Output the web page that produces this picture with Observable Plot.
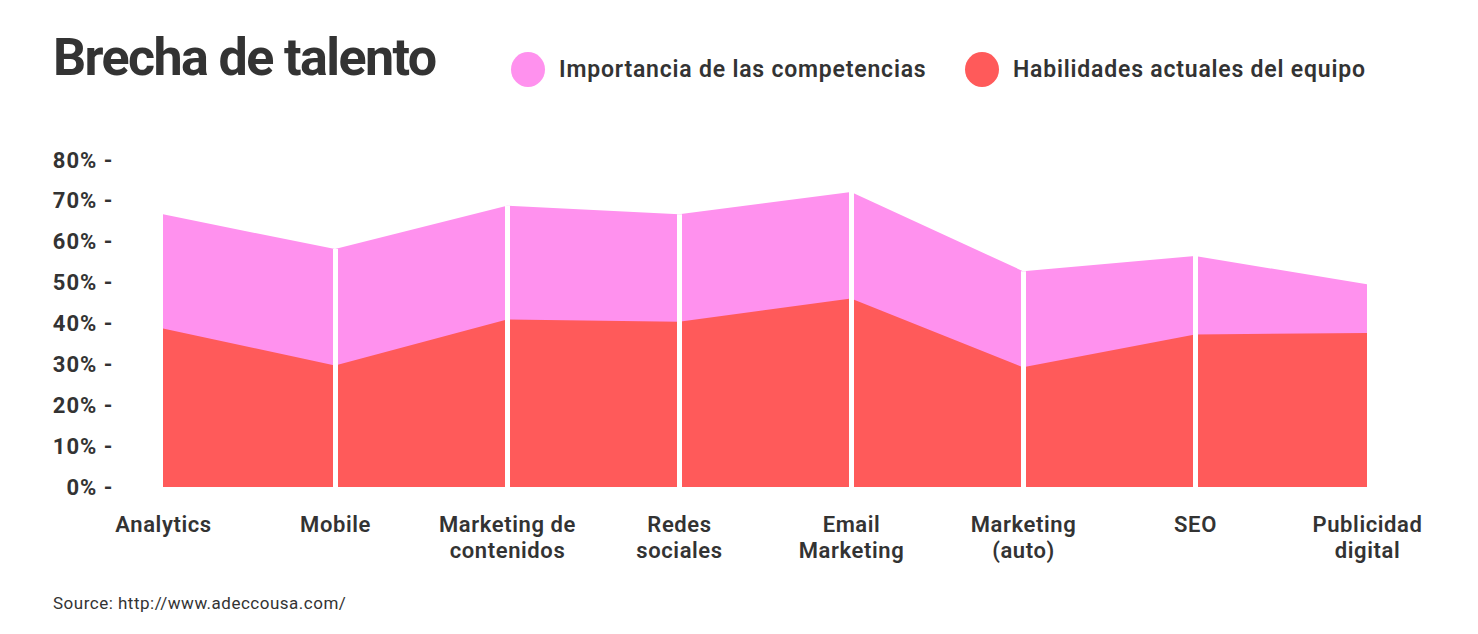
<!DOCTYPE html>
<html>
<head>
<meta charset="utf-8">
<script src="https://cdn.jsdelivr.net/npm/d3@7"></script>
<script src="https://cdn.jsdelivr.net/npm/@observablehq/plot@0.6"></script>
<style>
  html, body { margin: 0; padding: 0; background: #fff; }
  #wrap { position: relative; width: 1478px; height: 634px; font-family: Roboto, "Noto Sans", sans-serif; color: #333; }
  #title { position: absolute; left: 53px; top: 25px; font-size: 52px; font-weight: 700; letter-spacing: -1.6px; line-height: 66px; margin: 0; color: #333; }
  .leg { position: absolute; top: 52px; display: flex; align-items: center; font-size: 23px; font-weight: 600; letter-spacing: 0.8px; color: #333; }
  .leg .dot { width: 34px; height: 35px; border-radius: 50%; margin-right: 14px; }
  #chart { position: absolute; left: 0; top: 130px; }
  #chart .xax text { letter-spacing: 0.6px; }
  #chart .yax text { letter-spacing: 1px; }
  #caption { position: absolute; left: 53px; top: 593px; font-size: 17px; letter-spacing: 0.5px; color: #333; }
</style>
</head>
<body>
<div id="wrap">
  <h1 id="title">Brecha de talento</h1>
  <div class="leg" style="left:511px"><span class="dot" style="background:#ff91ee"></span><span>Importancia de las competencias</span></div>
  <div class="leg" style="left:965px"><span class="dot" style="background:#ff5a5a"></span><span>Habilidades actuales del equipo</span></div>
  <div id="chart"></div>
  <div id="caption">Source: http://www.adeccousa.com/</div>
</div>
<script>
const categories = ["Analytics", "Mobile", "Marketing de\ncontenidos", "Redes\nsociales", "Email\nMarketing", "Marketing\n(auto)", "SEO", "Publicidad\ndigital"];
const importancia = [66.7, 58.2, 68.8, 66.7, 72.2, 52.8, 56.5, 49.6];
const habilidades = [38.8, 29.7, 41.0, 40.4, 46.1, 29.3, 37.3, 37.7];
const yTicks = [0, 10, 20, 30, 40, 50, 60, 70, 80];

const pink = "#ff91ee";
const red = "#ff5a5a";

const data = categories.map((c, i) => ({i, cat: c, imp: importancia[i], hab: habilidades[i]}));
const inner = data.slice(1, -1);

const chart = Plot.plot({
  width: 1478,
  height: 450,
  marginLeft: 163,
  marginRight: 111,
  marginTop: 30,
  marginBottom: 93,
  style: {fontFamily: "Roboto, 'Noto Sans', sans-serif", color: "#333", background: "transparent"},
  x: {type: "linear", domain: [0, categories.length - 1]},
  y: {domain: [0, 80]},
  marks: [
    Plot.areaY(data, {x: "i", y: "imp", fill: pink}),
    Plot.areaY(data, {x: "i", y: "hab", fill: red}),
    Plot.ruleX(inner, {x: "i", y1: 0, y2: "imp", stroke: "white", strokeWidth: 5}),
    Plot.axisY({ticks: yTicks, tickSize: 0, tickPadding: 50, tickFormat: d => `${d}% -`, fontSize: 22, fontWeight: 700, label: null, className: "yax"}),
    Plot.axisX({ticks: data.map(d => d.i), tickSize: 0, tickPadding: 26, tickFormat: i => categories[i], fontSize: 22, fontWeight: 600, lineHeight: 1.18, label: null, className: "xax"})
  ]
});
document.getElementById("chart").appendChild(chart);
</script>
</body>
</html>
